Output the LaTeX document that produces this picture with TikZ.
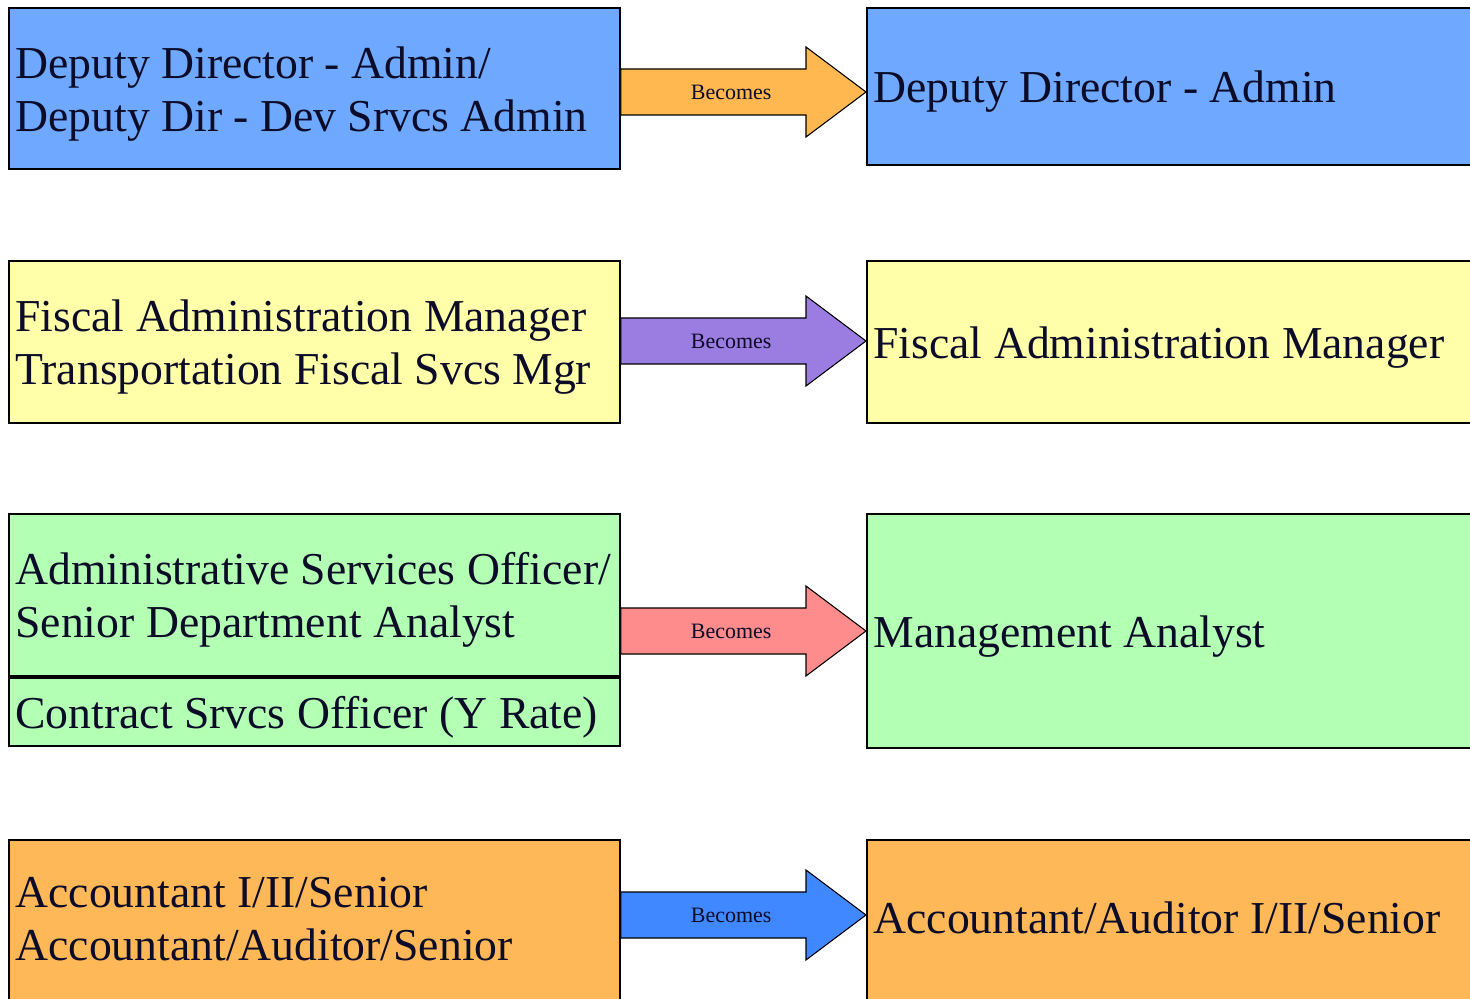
\documentclass[tikz,border=0pt]{standalone}
\usepackage{fontspec}
\setmainfont{Liberation Serif}
\usepackage{tikz}
\usetikzlibrary{positioning,calc}
\usepackage{xcolor}
\definecolor{ink}{RGB}{12,12,40}
\definecolor{dirblue}{RGB}{111,168,255}
\definecolor{fiscyellow}{RGB}{255,255,170}
\definecolor{mgmtgreen}{RGB}{179,255,179}
\definecolor{acctorange}{RGB}{255,184,87}
\definecolor{arrA}{RGB}{255,184,80}
\definecolor{arrB}{RGB}{155,124,224}
\definecolor{arrC}{RGB}{255,140,140}
\definecolor{arrD}{RGB}{64,136,255}
\tikzset{font={\fontsize{26pt}{30.2pt}\selectfont}}

\begin{document}
\begin{tikzpicture}[x=0.02cm,y=-0.02cm,
job/.style={draw=black,line width=1.1pt,anchor=north west,align=flush left,inner xsep=0.13cm,inner ysep=0pt,text=ink,
  execute at begin node={\rule{0pt}{24pt}}},
old/.style={job,text width=11.96cm,minimum width=12.22cm},
new/.style={job,text width=12.14cm,minimum width=12.4cm},
openbottom/.style={minimum height=3.4cm,execute at end node={\rule[-14pt]{0pt}{0pt}}},
becomes/.style={draw=black,line width=0.6pt},
tag/.style={text=ink,font={\fontsize{12.5pt}{14pt}\selectfont}}
]
\clip (0,0) rectangle (1470,999);

%old titles
\node[old,fill=dirblue,minimum height=3.22cm] (l1) at (8,7) {Deputy Director - Admin/\\Deputy Dir - Dev Srvcs Admin};
\node[old,fill=fiscyellow,minimum height=3.24cm] (l2) at (8,260) {Fiscal Administration Manager\\Transportation Fiscal Svcs Mgr};
\node[old,fill=mgmtgreen,minimum height=3.24cm] (l3) at (8,513) {Administrative Services Officer/\\Senior Department Analyst};
\node[old,fill=mgmtgreen,minimum height=1.36cm,below=0pt of l3] (c3) {Contract Srvcs Officer (Y Rate)};
\node[old,fill=acctorange,openbottom] (l4) at (8,839) {Accountant I/II/Senior\\Accountant/Auditor/Senior};

%new titles
\node[new,fill=dirblue,minimum height=3.14cm] (r1) at (866,7) {Deputy Director - Admin};
\node[new,fill=fiscyellow,minimum height=3.24cm] (r2) at (866,260) {Fiscal Administration Manager};
\node[new,fill=mgmtgreen,minimum height=4.68cm] (r3) at (866,513) {Management Analyst};
\node[new,fill=acctorange,openbottom] (r4) at (866,839) {Accountant/Auditor I/II/Senior};

%arrows
\foreach \i/\y/\c in {1/92/arrA,2/341/arrB,3/631/arrC,4/915/arrD}{
\coordinate (t\i) at (r\i.west |- 0,\y);
\coordinate (s\i) at (l\i.east |- 0,\y);
\draw[becomes,fill=\c] ($(s\i)+(0,-23)$) -- ($(t\i)+(-60,-23)$) -- ($(t\i)+(-60,-45)$) -- (t\i)
  -- ($(t\i)+(-60,45)$) -- ($(t\i)+(-60,23)$) -- ($(s\i)+(0,23)$) -- cycle;
\node[tag] (b\i) at ($(s\i)!0.45!(t\i)$) {Becomes};
}

\end{tikzpicture}
\end{document}
